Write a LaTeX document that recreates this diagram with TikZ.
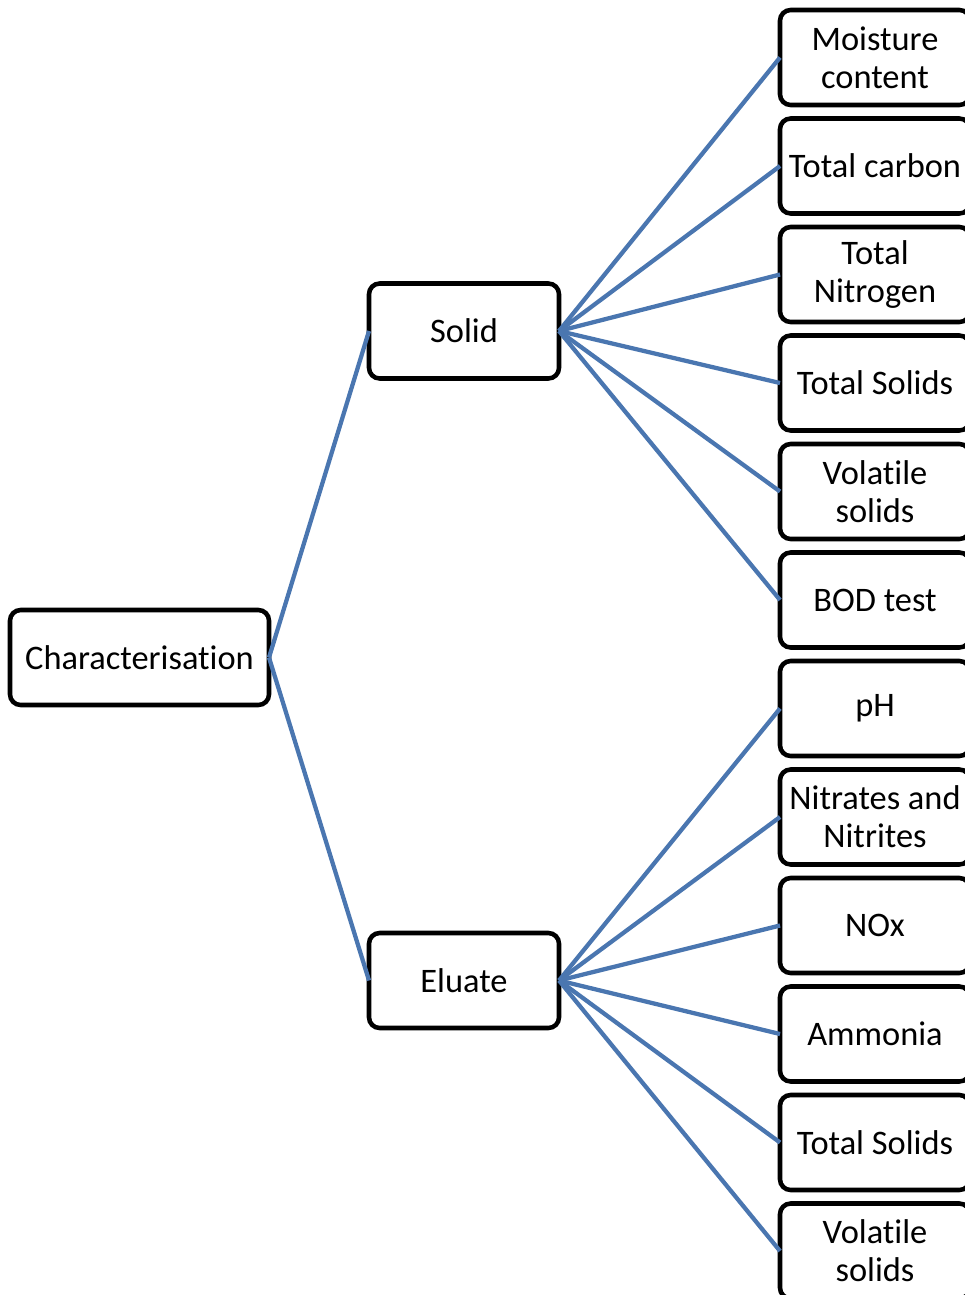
\documentclass[tikz,border=0pt]{standalone}
\usepackage{fontspec}
\setmainfont{Carlito}[Ligatures={NoCommon}]
\usepackage{xcolor}
\usepackage{tikz}
\usetikzlibrary{positioning}
\definecolor{linkblue}{RGB}{74, 118, 176}
\tikzset{
 treebox/.style={
 rectangle,
 rounded corners=8pt,
 draw=black,
 fill=white,
 line width=3.4pt,
 outer sep=0pt,
 align=center,
 inner sep=2pt,
 minimum width=142.5pt,
 minimum height=71.25pt,
 font=\fontsize{25.8}{28.5}\selectfont
 },
 rootbox/.style={treebox, minimum width=194.25pt},
 leafbox/.style={treebox},
 branch/.style={line width=3.2pt, draw=linkblue}
}
\begin{document}
\begin{tikzpicture}[x=0.75pt, y=-0.75pt, node distance=10.125pt]
	\useasboundingbox (0,0) rectangle (964,1295);

	\node[rootbox] (char) at (139.5,657.5) {Characterisation};
	\node[treebox] (solid) at (464,331) {Solid};
	\node[treebox] (eluate) at (464,980.5) {Eluate};

	\node[leafbox] (moist) at (875,57.5) {Moisture\\content};
	\node[leafbox, below=of moist] (carbon) {Total carbon};
	\node[leafbox, below=of carbon] (nitro) {Total\\Nitrogen};
	\node[leafbox, below=of nitro] (tsolid) {Total Solids};
	\node[leafbox, below=of tsolid] (vsolid) {Volatile\\solids};
	\node[leafbox, below=of vsolid] (bod) {BOD test};
	\node[leafbox, below=of bod] (ph) {pH};
	\node[leafbox, below=of ph] (nitrate) {Nitrates and\\Nitrites};
	\node[leafbox, below=of nitrate] (nox) {NOx};
	\node[leafbox, below=of nox] (ammonia) {Ammonia};
	\node[leafbox, below=of ammonia] (etsolid) {Total Solids};
	\node[leafbox, below=of etsolid] (evsolid) {Volatile\\solids};

	\draw[branch] (char.east) -- (solid.west);
	\draw[branch] (char.east) -- (eluate.west);

	\draw[branch] (solid.east) -- (moist.west);
	\draw[branch] (solid.east) -- (carbon.west);
	\draw[branch] (solid.east) -- (nitro.west);
	\draw[branch] (solid.east) -- (tsolid.west);
	\draw[branch] (solid.east) -- (vsolid.west);
	\draw[branch] (solid.east) -- (bod.west);

	\draw[branch] (eluate.east) -- (ph.west);
	\draw[branch] (eluate.east) -- (nitrate.west);
	\draw[branch] (eluate.east) -- (nox.west);
	\draw[branch] (eluate.east) -- (ammonia.west);
	\draw[branch] (eluate.east) -- (etsolid.west);
	\draw[branch] (eluate.east) -- (evsolid.west);
\end{tikzpicture}
\end{document}
